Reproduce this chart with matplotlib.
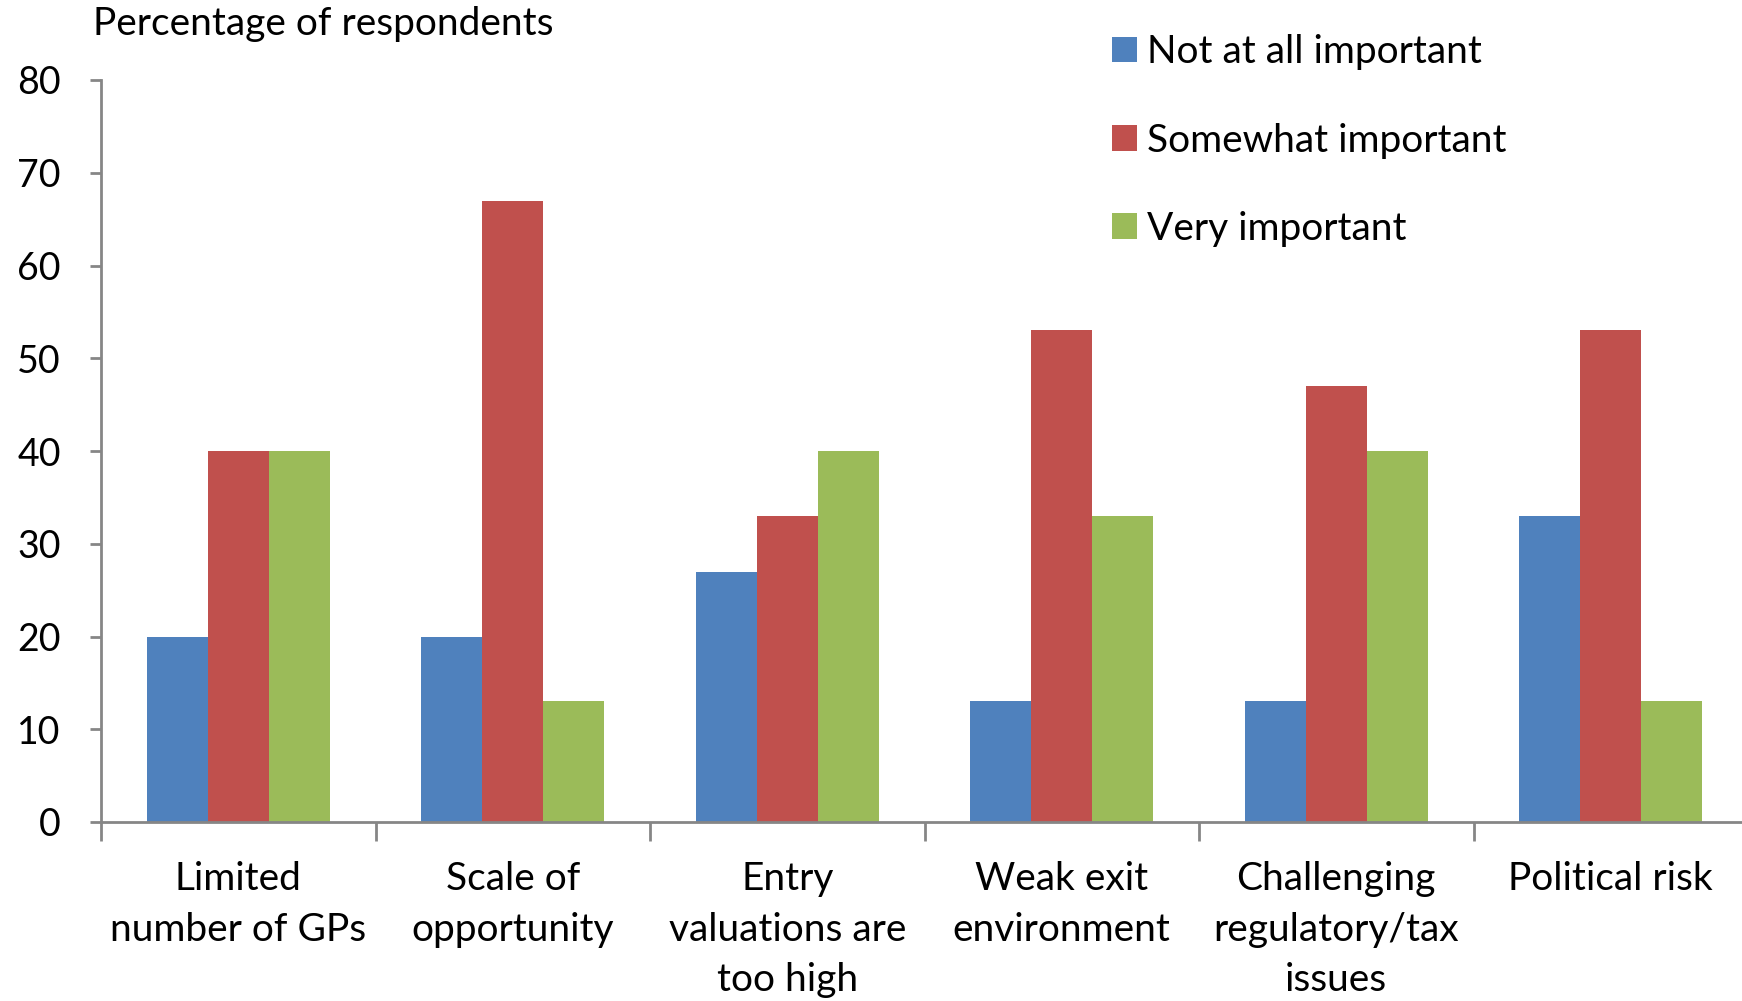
import matplotlib
matplotlib.use("Agg")
import matplotlib.pyplot as plt
import numpy as np

categories = ["Limited\nnumber of GPs", "Scale of\nopportunity", "Entry\nvaluations are\ntoo high",
              "Weak exit\nenvironment", "Challenging\nregulatory/tax\nissues", "Political risk"]
not_at_all = [20, 20, 27, 13, 13, 33]
somewhat = [40, 67, 33, 53, 47, 53]
very = [40, 13, 40, 33, 40, 13]
series_names = ["Not at all important", "Somewhat important", "Very important"]
colors = ["#4f81bd", "#c0504d", "#9bbb59"]

plt.rcParams['font.family'] = ['Lato', 'DejaVu Sans']
gray = "#868686"

W, H = 1742, 1001
fig = plt.figure(figsize=(W / 100, H / 100), dpi=100)
left, right, bottom, top = 101, 1748, 822, 80
ax = fig.add_axes([left / W, 1 - bottom / H, (right - left) / W, (bottom - top) / H])

x = np.arange(len(categories))
bw = 0.222
for i, (vals, name, c) in enumerate(zip([not_at_all, somewhat, very], series_names, colors)):
    ax.bar(x + (i - 1) * bw, vals, bw, color=c, label=name, edgecolor='none')

ax.set_xlim(-0.5, len(categories) - 0.5)
ax.set_ylim(0, 80)
ax.set_yticks(range(0, 81, 10))
ax.tick_params(axis='y', labelsize=27, length=8, width=2, color=gray, pad=21)
ax.set_xticks(np.arange(len(categories) + 1) - 0.5)
ax.set_xticklabels([])
ax.tick_params(axis='x', length=14, width=2, color=gray)
ax.set_xticks(x, minor=True)
ax.set_xticklabels(categories, minor=True, fontsize=28, linespacing=1.51, va='top')
ax.tick_params(axis='x', which='minor', length=0, pad=28)
for s in ['top', 'right']:
    ax.spines[s].set_visible(False)
for s in ['left', 'bottom']:
    ax.spines[s].set_color(gray)
    ax.spines[s].set_linewidth(2)

fig.text(93 / W, 1 - 24 / H, "Percentage of respondents", fontsize=28, va='center', ha='left')

fig.legend(loc='upper left', bbox_to_anchor=(1093 / W, 1 - 15 / H), frameon=False,
           fontsize=28, handlelength=0.63, handleheight=0.63, handletextpad=0.25,
           labelspacing=1.34, borderpad=0)

fig.savefig("out.png", dpi=100)
